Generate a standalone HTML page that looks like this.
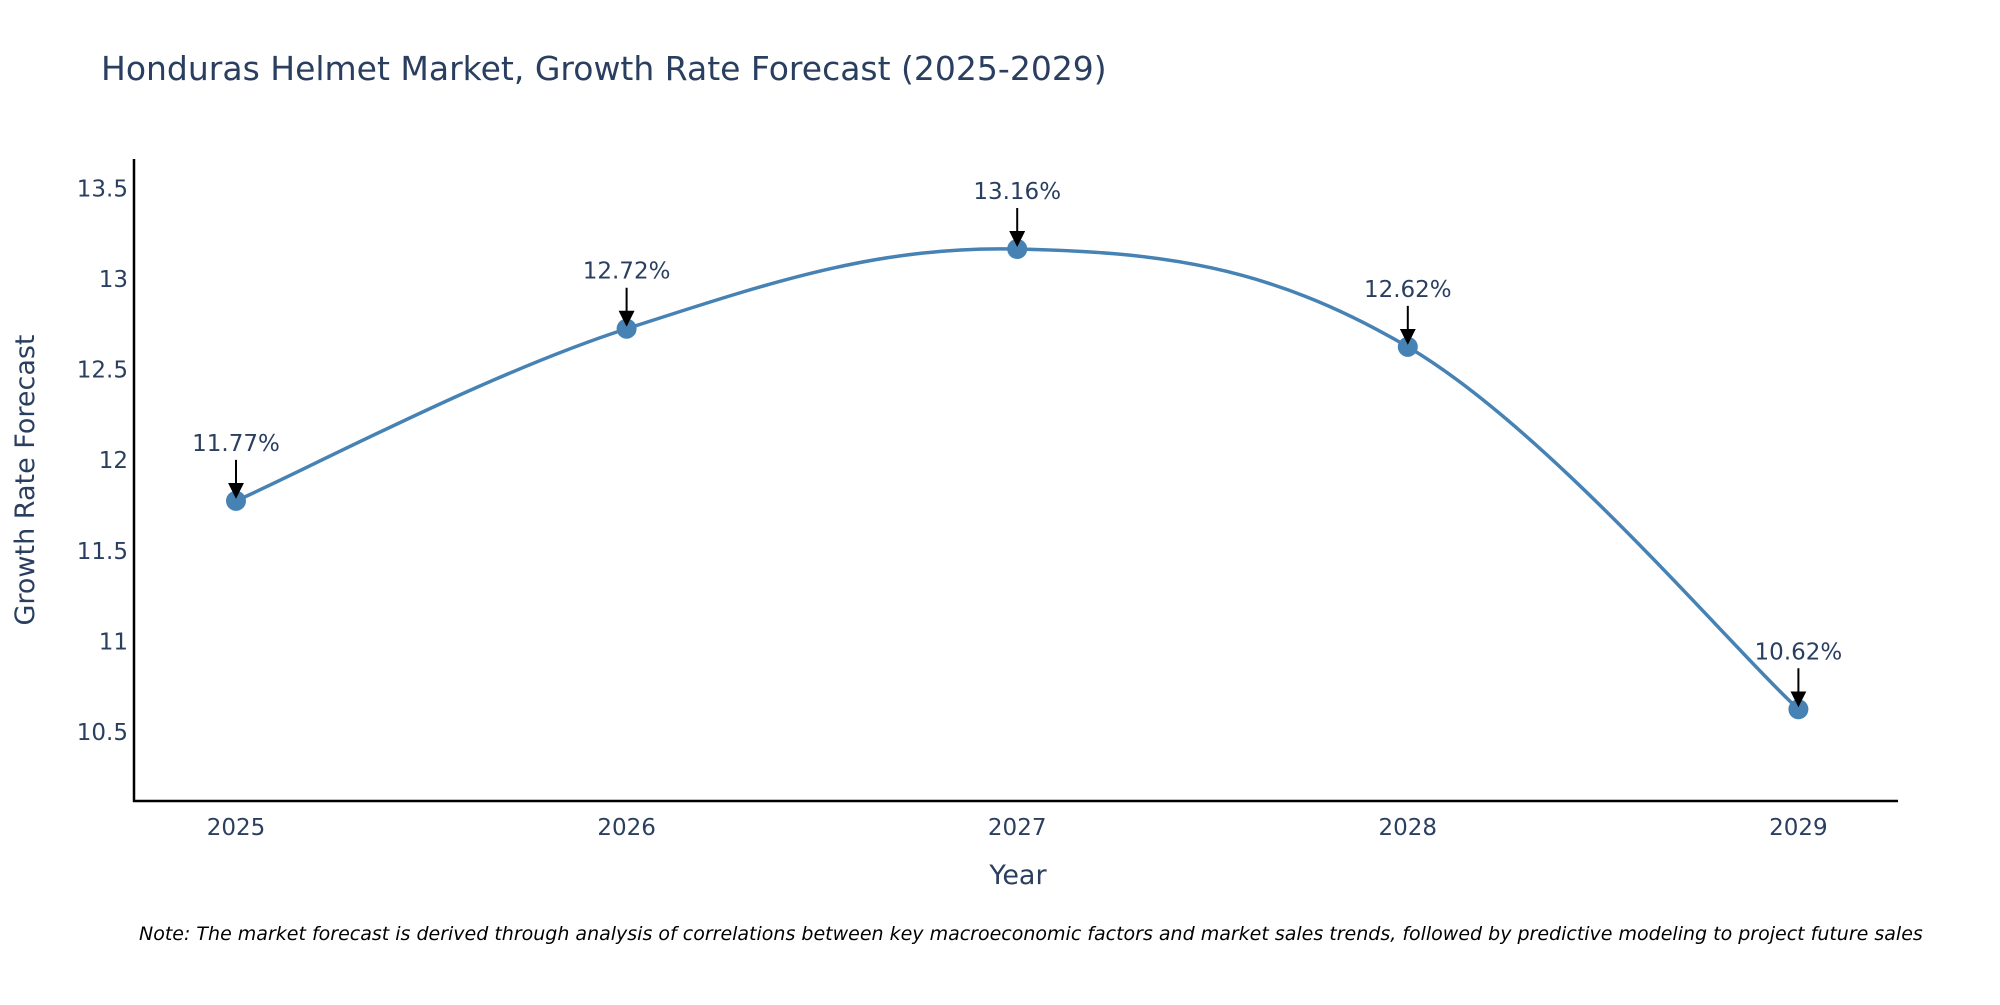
<!DOCTYPE html>
<html><head><meta charset="utf-8"><style>
body{margin:0;background:#fff;overflow:hidden;}
svg text{font-family:"DejaVu Sans","Liberation Sans",sans-serif;}
</style></head><body>
<svg id="chart" width="2000" height="1000" xmlns="http://www.w3.org/2000/svg">
<rect width="2000" height="1000" fill="#fff"/>
<text x="101" y="80" font-size="33" fill="#2a3f5f">Honduras Helmet Market, Growth Rate Forecast (2025-2029)</text>
<g id="yticks"></g><g id="xticks"></g>
<line x1="134" y1="159" x2="134" y2="802" stroke="#000" stroke-width="2.5"/>
<line x1="133" y1="801" x2="1898" y2="801" stroke="#000" stroke-width="2.5"/>
<path id="line" fill="none" stroke="#4682b4" stroke-width="3.5"/>
<g id="points"></g><g id="annots"></g>
<text transform="translate(34,480) rotate(-90)" text-anchor="middle" font-size="27" fill="#2a3f5f">Growth Rate Forecast</text>
<text x="1018" y="884" text-anchor="middle" font-size="27" fill="#2a3f5f">Year</text>
<text x="139" y="940" font-size="19" font-style="italic" fill="#000">Note: The market forecast is derived through analysis of correlations between key macroeconomic factors and market sales trends, followed by predictive modeling to project future sales</text>
<defs><marker id="ah" markerWidth="16" markerHeight="16" refX="14" refY="8" orient="auto" markerUnits="userSpaceOnUse" viewBox="0 0 16 16"><path d="M0,0 L16,8 L0,16 z" fill="#000"/></marker></defs>
</svg>
<script>
const years=[2025,2026,2027,2028,2029];
const values=[11.77,12.72,13.16,12.62,10.62];
const labels=["11.77%","12.72%","13.16%","12.62%","10.62%"];
const yTicks=[10.5,11,11.5,12,12.5,13,13.5];
const yTickLabels=["10.5","11","11.5","12","12.5","13","13.5"];
const NS="http://www.w3.org/2000/svg";
function xS(v){return 236+(v-2025)*390.6;}
function yS(v){return 731-(v-10.5)*181.2;}
function mk(t,a,p){const e=document.createElementNS(NS,t);for(const k in a)e.setAttribute(k,a[k]);p.appendChild(e);return e;}
const yt=document.getElementById('yticks');
yTicks.forEach((t,i)=>{const e=mk('text',{x:128,y:yS(t)+9,'text-anchor':'end','font-size':23,fill:'#2a3f5f'},yt);e.textContent=yTickLabels[i];

});
const xt=document.getElementById('xticks');
years.forEach(y=>{const e=mk('text',{x:xS(y),y:835,'text-anchor':'middle','font-size':23,fill:'#2a3f5f'},xt);e.textContent=y;

});
const P=years.map((y,i)=>[xS(y),yS(values[i])]);
let d='M'+P[0][0]+','+P[0][1];
const s=0.18;
for(let i=0;i<P.length-1;i++){const p0=P[i-1]||P[i],p1=P[i],p2=P[i+1],p3=P[i+2]||P[i+1];
const c1=[p1[0]+(p2[0]-p0[0])*s,p1[1]+(p2[1]-p0[1])*s],c2=[p2[0]-(p3[0]-p1[0])*s,p2[1]-(p3[1]-p1[1])*s];
d+=` C${c1[0]},${c1[1]} ${c2[0]},${c2[1]} ${p2[0]},${p2[1]}`;}
document.getElementById('line').setAttribute('d',d);
const pts=document.getElementById('points'),an=document.getElementById('annots');
P.forEach((p,i)=>{const c=mk('circle',{cx:p[0],cy:p[1],r:10,fill:'#4682b4'},pts);


const l=mk('line',{x1:p[0],y1:p[1]-41,x2:p[0],y2:p[1]-4,stroke:'#000','stroke-width':2,'marker-end':'url(#ah)'},an);


const t=mk('text',{x:p[0],y:p[1]-50,'text-anchor':'middle','font-size':23,fill:'#2a3f5f'},an);t.textContent=labels[i];

});
</script>
</body></html>
